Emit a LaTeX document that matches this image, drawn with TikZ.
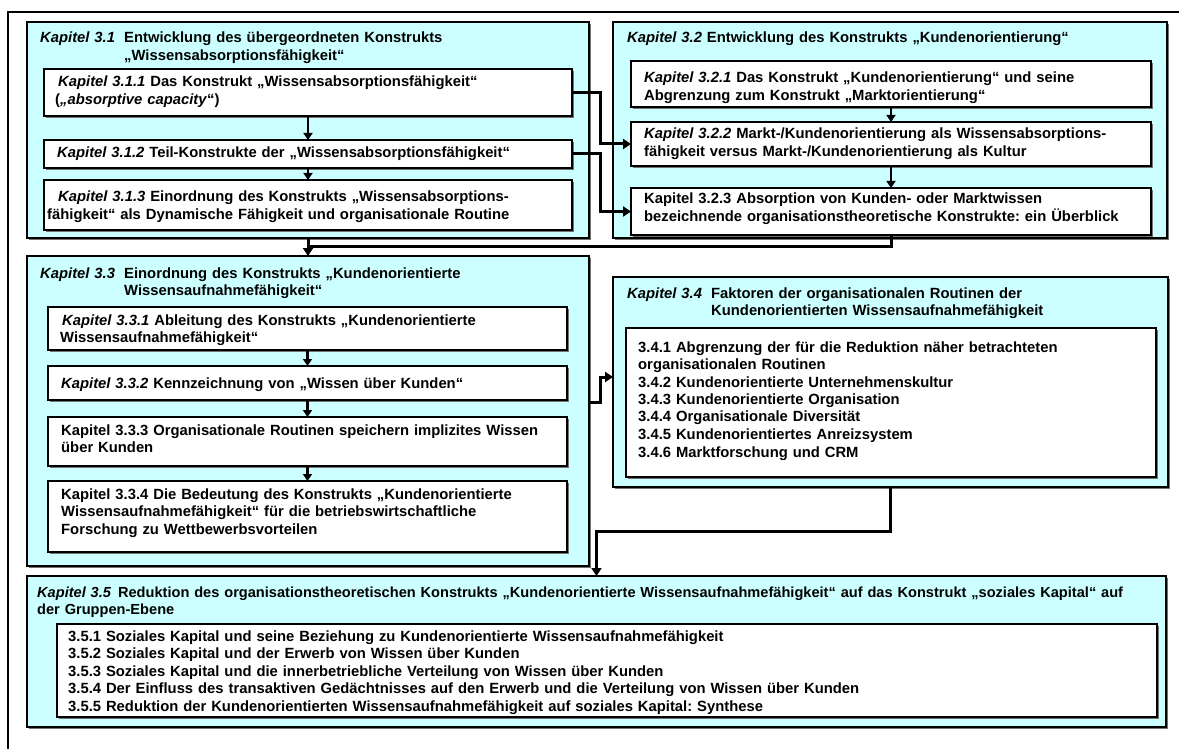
\documentclass[tikz,border=0pt]{standalone}
\usepackage{fontspec}
\setmainfont{Liberation Sans}
\usetikzlibrary{arrows.meta,shadows}
\definecolor{panelcyan}{RGB}{204,255,255}
\frenchspacing

% box from top-left (x1,y1) to bottom-right (x2,y2), y grows downwards
\newcommand\mkbox[6]{%
  \node[#1,minimum width={#4-#2},minimum height={#5-#3}] (#6) at (#2,#3) {};}

\begin{document}
\begin{tikzpicture}[x=1pt,y=-1pt,
  boxbase/.style={draw=black,line width=2pt,inner sep=0pt,outer sep=0pt,anchor=north west,
    drop shadow={shadow xshift=1.6pt,shadow yshift=-1.6pt,fill=black!55,opacity=1}},
  panel/.style={boxbase,fill=panelcyan},
  card/.style={boxbase,fill=white},
  lbl/.style={inner sep=0pt,anchor=base west,align=left,text width=540pt,
    font=\bfseries\fontsize{14.8}{17.5}\selectfont},
  flow/.style={line width=2.4pt,-{Triangle[length=7pt,width=9pt]}},
  link/.style={line width=3pt,-{Triangle[length=8pt,width=10pt]}},
  plain/.style={line width=3pt},
  frame/.style={line width=1.6pt}]

\useasboundingbox (0,0) rectangle (1179,749);
\draw[frame] (8,749) -- (8,12) -- (1179,12);

% ---------- chapter 3.1 ----------
\mkbox{panel}{27}{22}{589}{238}{b31}
\mkbox{card}{44}{69}{572}{116}{b311}
\mkbox{card}{44}{140}{572}{168}{b312}
\mkbox{card}{44}{180}{572}{230}{b313}
\node[lbl] (k31) at (40,43) {\textit{Kapitel 3.1}};
\node[lbl] (t31) at (124,43) {Entwicklung des übergeordneten Konstrukts\\„Wissensabsorptionsfähigkeit“};
\node[lbl] (t311) at (55,87) {\hspace*{3pt}\textit{Kapitel 3.1.1} Das Konstrukt „Wissensabsorptionsfähigkeit“\\(\textit{„absorptive capacity}“)};
\node[lbl] (t312) at (57,158) {\textit{Kapitel 3.1.2} Teil-Konstrukte der „Wissensabsorptionsfähigkeit“};
\node[lbl] (t313) at (47,202) {\hspace*{11pt}\textit{Kapitel 3.1.3} Einordnung des Konstrukts „Wissensabsorptions-\\fähigkeit“ als Dynamische Fähigkeit und organisationale Routine};

% ---------- chapter 3.2 ----------
\mkbox{panel}{613}{22}{1167}{238}{b32}
\mkbox{card}{631}{61}{1151}{107}{b321}
\mkbox{card}{631}{122}{1151}{166}{b322}
\mkbox{card}{631}{188}{1151}{235}{b323}
\node[lbl] (t32) at (627,43) {\textit{Kapitel 3.2} Entwicklung des Konstrukts „Kundenorientierung“};
\node[lbl] (t321) at (644,83) {\textit{Kapitel 3.2.1} Das Konstrukt „Kundenorientierung“ und seine\\Abgrenzung zum Konstrukt „Marktorientierung“};
\node[lbl] (t322) at (644,139) {\textit{Kapitel 3.2.2} Markt-/Kundenorientierung als Wissensabsorptions-\\fähigkeit versus Markt-/Kundenorientierung als Kultur};
\node[lbl] (t323) at (644,204) {Kapitel 3.2.3 Absorption von Kunden- oder Marktwissen\\bezeichnende organisationstheoretische Konstrukte: ein Überblick};

% ---------- chapter 3.3 ----------
\mkbox{panel}{27}{256}{589}{566}{b33}
\mkbox{card}{48}{307}{567}{350}{b331}
\mkbox{card}{48}{366}{567}{400}{b332}
\mkbox{card}{48}{417}{567}{466}{b333}
\mkbox{card}{48}{481}{567}{552}{b334}
\node[lbl] (k33) at (40,278) {\textit{Kapitel 3.3}};
\node[lbl] (t33) at (124,278) {Einordnung des Konstrukts „Kundenorientierte\\Wissensaufnahmefähigkeit“};
\node[lbl] (t331) at (60,325) {\hspace*{2pt}\textit{Kapitel 3.3.1} Ableitung des Konstrukts „Kundenorientierte\\Wissensaufnahmefähigkeit“};
\node[lbl] (t332) at (61,388) {\textit{Kapitel 3.3.2} Kennzeichnung von „Wissen über Kunden“};
\node[lbl] (t333) at (61,435) {Kapitel 3.3.3 Organisationale Routinen speichern implizites Wissen\\über Kunden};
\node[lbl] (t334) at (61,499) {Kapitel 3.3.4 Die Bedeutung des Konstrukts „Kundenorientierte\\Wissensaufnahmefähigkeit“ für die betriebswirtschaftliche\\Forschung zu Wettbewerbsvorteilen};

% ---------- chapter 3.4 ----------
\mkbox{panel}{613}{277}{1168}{487}{b34}
\mkbox{card}{626}{328}{1156}{477}{b34l}
\node[lbl] (k34) at (627,298) {\textit{Kapitel 3.4}};
\node[lbl] (t34) at (711,298) {Faktoren der organisationalen Routinen der\\Kundenorientierten Wissensaufnahmefähigkeit};
\node[lbl] (t34l) at (638,352) {3.4.1 Abgrenzung der für die Reduktion näher betrachteten\\organisationalen Routinen\\3.4.2 Kundenorientierte Unternehmenskultur\\3.4.3 Kundenorientierte Organisation\\3.4.4 Organisationale Diversität\\3.4.5 Kundenorientiertes Anreizsystem\\3.4.6 Marktforschung und CRM};

% ---------- chapter 3.5 ----------
\mkbox{panel}{27}{576}{1166}{727}{b35}
\mkbox{card}{57}{624}{1157}{717}{b35l}
\node[lbl,text width=1120pt,font=\bfseries\fontsize{14.6}{17.5}\selectfont] (t35) at (37,597) {\textit{Kapitel 3.5}\hspace{2pt} Reduktion des organisationstheoretischen Konstrukts „Kundenorientierte Wissensaufnahmefähigkeit“ auf das Konstrukt „soziales Kapital“ auf\\der Gruppen-Ebene};
\node[lbl,text width=1080pt] (t35l) at (68,641) {3.5.1 Soziales Kapital und seine Beziehung zu Kundenorientierte Wissensaufnahmefähigkeit\\3.5.2 Soziales Kapital und der Erwerb von Wissen über Kunden\\3.5.3 Soziales Kapital und die innerbetriebliche Verteilung von Wissen über Kunden\\3.5.4 Der Einfluss des transaktiven Gedächtnisses auf den Erwerb und die Verteilung von Wissen über Kunden\\3.5.5 Reduktion der Kundenorientierten Wissensaufnahmefähigkeit auf soziales Kapital: Synthese};

% ---------- connectors inside panels ----------
\draw[flow] (b311) -- (b312);
\draw[flow] (b312) -- (b313);
\draw[flow] (b321) -- (b322);
\draw[flow] (b322) -- (b323);
\draw[flow] (b331) -- (b332);
\draw[flow] (b332) -- (b333);
\draw[flow] (b333) -- (b334);

% ---------- connectors between panels ----------
\draw[link] (b311.east) -- ++(28,0) |- (b322.west);
\draw[link] (b312.east) -- ++(28,0) |- (b323.west);
\coordinate (join) at (b31.south |- 0,246);
\draw[plain] (b323.south) |- (join);
\draw[link] (b31.south) -- (b33.north);
\draw[link] ([yshift=9pt]b33.east) -- ++(11,0) |- ([yshift=5pt]b34.west);
\draw[link] (b34.south) -- ++(0,44) -| (b35.north);
\end{tikzpicture}
\end{document}
